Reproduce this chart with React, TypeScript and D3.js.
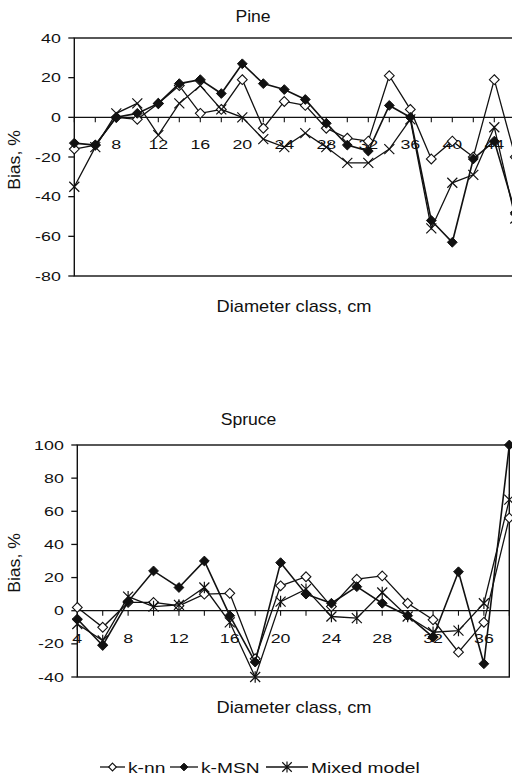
import React, { useEffect, useRef } from 'react';
import * as d3 from 'd3';

// Pine: diameter classes 4..46 cm
const pineClasses = [4, 6, 8, 10, 12, 14, 16, 18, 20, 22, 24, 26, 28, 30, 32, 34, 36, 38, 40, 42, 44, 46];
const pineKnn = [-16, -14, 0, -1, 7, 16, 2, 4, 19, -5.5, 8, 6, -5.5, -10.5, -12, 21, 4, -21, -12, -20, 19, -20];
const pineMsn = [-13, -14, 0, 2, 7, 17, 19, 12, 27, 17, 14, 9, -3, -14, -17, 6, 0, -52, -63, -21, -12, -48];
const pineMixed = [-35, -15, 2, 7, -9, 7, 16, 4, 0, -11, -15, -8, -15, -23, -23, -16, -1, -56, -33, -29, -5, -51];
const pineYTicks = [-80, -60, -40, -20, 0, 20, 40];
const pineXLabels = [8, 12, 16, 20, 24, 28, 32, 36, 40, 44];

// Spruce: diameter classes 4..38 cm
const spruceClasses = [4, 6, 8, 10, 12, 14, 16, 18, 20, 22, 24, 26, 28, 30, 32, 34, 36, 38];
const spruceKnn = [2, -10, 5, 5, 3, 10, 10.5, -29, 15, 20.5, 2.5, 19, 21, 4.5, -5.5, -25, -7, 56];
const spruceMsn = [-5, -21, 5.5, 24, 14, 30, -3, -31, 29, 10, 4.5, 14.5, 4.5, -3, -16, 23.5, -32, 100];
const spruceMixed = [-8, -18, 8.5, 2.5, 3.5, 14, -7, -40, 5.5, 13, -3.5, -4.5, 11, -3.5, -13, -12, 4.5, 67];
const spruceYTicks = [-40, -20, 0, 20, 40, 60, 80, 100];
const spruceXLabels = [4, 8, 12, 16, 20, 24, 28, 32, 36];

const seriesNames = ['k-nn', 'k-MSN', 'Mixed model'];

const FONT = "'Liberation Sans', Arial, Helvetica, sans-serif";
const INK = '#111';

// marker shapes for d3.symbol, size = (2r)^2
const diamond = {
  draw(ctx: any, size: number) {
    const r = Math.sqrt(size) / 2;
    ctx.moveTo(0, -r); ctx.lineTo(r, 0); ctx.lineTo(0, r); ctx.lineTo(-r, 0); ctx.closePath();
  }
};
const cross = {
  draw(ctx: any, size: number) {
    const r = Math.sqrt(size) / 2;
    ctx.moveTo(-r, -r); ctx.lineTo(r, r); ctx.moveTo(r, -r); ctx.lineTo(-r, r);
  }
};
const star = {
  draw(ctx: any, size: number) {
    const r = Math.sqrt(size) / 2;
    ctx.moveTo(-r, -r); ctx.lineTo(r, r); ctx.moveTo(r, -r); ctx.lineTo(-r, r);
    ctx.moveTo(0, -r * 1.15); ctx.lineTo(0, r * 1.15);
  }
};

function label(g: any, x: number, y: number, txt: string, size: number, anchor: string, sx: number, rot = 0) {
  const t = g.append('g').attr('transform', `translate(${x},${y})${rot ? ` rotate(${rot})` : ''} scale(${sx},1)`);
  t.append('text')
    .attr('text-anchor', anchor)
    .attr('font-size', size)
    .attr('font-family', FONT)
    .attr('fill', INK)
    .text(txt);
}

function markerStyle(sel: any, i: number) {
  if (i === 0) sel.attr('fill', '#fff').attr('stroke', INK).attr('stroke-width', 1.1);
  else if (i === 1) sel.attr('fill', INK).attr('stroke', INK).attr('stroke-width', 1);
  else sel.attr('fill', 'none').attr('stroke', INK).attr('stroke-width', 1.2);
}

function drawPanel(svg: any, p: any) {
  const x = d3.scaleLinear().domain(p.xDomain).range(p.xRange);
  const y = d3.scaleLinear().domain(p.yDomain).range(p.yRange);
  const g = svg.append('g');
  const [x0, x1] = [p.xRange[0], p.boxRight];
  const [yb, yt] = p.yRange;

  // frame
  g.append('rect').attr('x', x0).attr('y', yt).attr('width', x1 - x0).attr('height', yb - yt)
    .attr('fill', 'none').attr('stroke', INK).attr('stroke-width', 1.4);

  // y axis ticks + labels
  p.yTicks.forEach((t: number) => {
    g.append('line').attr('x1', x0 - 6).attr('x2', x0).attr('y1', y(t)).attr('y2', y(t))
      .attr('stroke', INK).attr('stroke-width', 1.3);
    label(g, x0 - 13.5, y(t) + 4.6, String(t), 13.5, 'end', 1.32);
  });

  // zero line as category axis
  g.append('line').attr('x1', x0).attr('x2', x1).attr('y1', y(0)).attr('y2', y(0))
    .attr('stroke', INK).attr('stroke-width', 1.3);
  p.classes.forEach((c: number) => {
    g.append('line').attr('x1', x(c)).attr('x2', x(c)).attr('y1', y(0)).attr('y2', y(0) + 5)
      .attr('stroke', INK).attr('stroke-width', 1.1);
  });
  p.xLabels.forEach((c: number) => {
    label(g, x(c), y(0) + 32, String(c), 13.5, 'middle', 1.32);
  });

  // titles
  label(svg, p.titleX, p.titleY, p.title, 16, 'middle', 1.1);
  label(svg, 294, p.xTitleY, 'Diameter class, cm', 16, 'middle', 1.14);
  label(svg, 20, p.yTitleY, 'Bias, %', 16, 'middle', 1.1, -90);

  // series
  const line = d3.line<number>().x((d, i) => x(p.classes[i])).y(d => y(d));
  const shapes = [diamond, diamond, p.mixedShape];
  p.series.forEach((vals: number[], si: number) => {
    g.append('path').datum(vals).attr('d', line)
      .attr('fill', 'none').attr('stroke', INK).attr('stroke-width', si === 1 ? 1.6 : 1.3);
    const m = g.selectAll('.m' + si).data(vals).enter().append('path')
      .attr('class', 'm' + si)
      .attr('transform', (d: number, i: number) => `translate(${x(p.classes[i])},${y(d)})`)
      .attr('d', d3.symbol().type(shapes[si] as any).size(si === 2 ? 100 : 96));
    markerStyle(m, si);
  });
}

export default function App() {
  const ref = useRef<SVGSVGElement>(null);

  useEffect(() => {
    const svg = d3.select(ref.current);
    svg.selectAll('*').remove();

    drawPanel(svg, {
      classes: pineClasses, series: [pineKnn, pineMsn, pineMixed],
      xDomain: [4, 46], xRange: [74.3, 515.3], boxRight: 540,
      yDomain: [-80, 40], yRange: [276, 38],
      yTicks: pineYTicks, xLabels: pineXLabels, mixedShape: cross,
      title: 'Pine', titleX: 253, titleY: 21.7, xTitleY: 312, yTitleY: 160
    });

    drawPanel(svg, {
      classes: spruceClasses, series: [spruceKnn, spruceMsn, spruceMixed],
      xDomain: [4, 38], xRange: [77.3, 509.3], boxRight: 509.3,
      yDomain: [-40, 100], yRange: [677, 445],
      yTicks: spruceYTicks, xLabels: spruceXLabels, mixedShape: star,
      title: 'Spruce', titleX: 248.5, titleY: 425, xTitleY: 713, yTitleY: 563
    });

    // legend
    const legendX = [100, 170, 266];
    const legendW = [25, 28, 42];
    const ly = 767;
    const leg = svg.append('g');
    const legShapes = [diamond, diamond, star];
    seriesNames.forEach((name, i) => {
      const lx = legendX[i];
      leg.append('line').attr('x1', lx).attr('x2', lx + legendW[i]).attr('y1', ly).attr('y2', ly)
        .attr('stroke', INK).attr('stroke-width', 1.3);
      const m = leg.append('path')
        .attr('transform', `translate(${lx + legendW[i] / 2},${ly})`)
        .attr('d', d3.symbol().type(legShapes[i] as any).size(i === 2 ? 90 : 60)());
      markerStyle(m, i);
      label(leg, lx + legendW[i] + 3, ly + 5.5, name, 15, 'start', 1.28);
    });
  }, []);

  return (
    <svg ref={ref} width={512} height={775}
      style={{ position: 'absolute', left: 0, top: 0, background: '#fff' }} />
  );
}
